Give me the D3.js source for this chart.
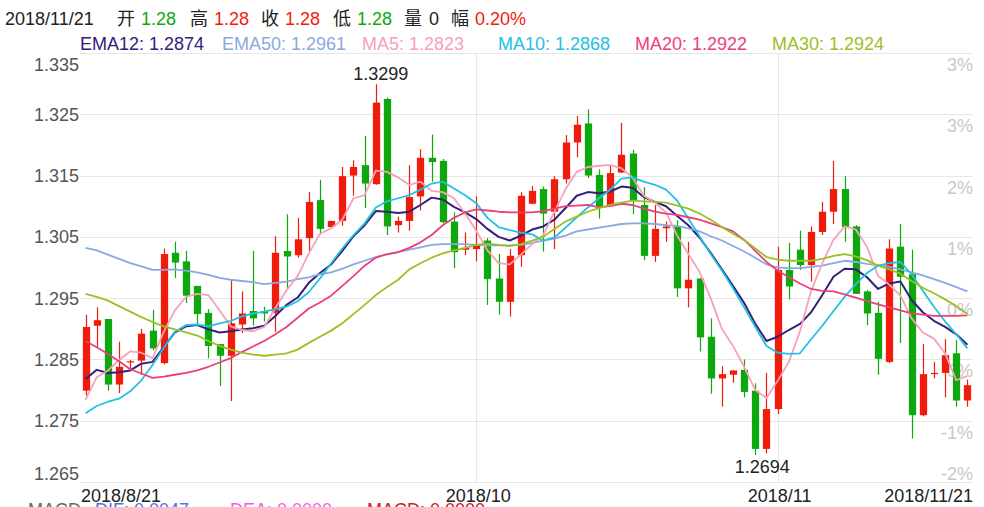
<!DOCTYPE html>
<html><head><meta charset="utf-8">
<script src="https://cdn.jsdelivr.net/npm/d3@7"></script>
<style>
html,body{margin:0;padding:0;background:#fff;overflow:hidden;}
svg{display:block;font-family:"Liberation Sans",Arial,"Noto Sans CJK SC",sans-serif;}
</style></head><body>
<svg id="c" width="984" height="507"></svg>
<script>
const dates = [
"2018/8/21","2018/8/22","2018/8/23","2018/8/24","2018/8/26","2018/8/27","2018/8/28","2018/8/29","2018/8/30","2018/8/31",
"2018/9/2","2018/9/3","2018/9/4","2018/9/5","2018/9/6","2018/9/7","2018/9/9","2018/9/10","2018/9/11","2018/9/12",
"2018/9/13","2018/9/14","2018/9/16","2018/9/17","2018/9/18","2018/9/19","2018/9/20","2018/9/21","2018/9/23","2018/9/24",
"2018/9/25","2018/9/26","2018/9/27","2018/9/28","2018/9/30","2018/10/1","2018/10/2","2018/10/3","2018/10/4","2018/10/5",
"2018/10/7","2018/10/8","2018/10/9","2018/10/10","2018/10/11","2018/10/12","2018/10/14","2018/10/15","2018/10/16","2018/10/17",
"2018/10/18","2018/10/19","2018/10/21","2018/10/22","2018/10/23","2018/10/24","2018/10/25","2018/10/26","2018/10/28","2018/10/29",
"2018/10/30","2018/10/31","2018/11/1","2018/11/2","2018/11/4","2018/11/5","2018/11/6","2018/11/7","2018/11/8","2018/11/9",
"2018/11/11","2018/11/12","2018/11/13","2018/11/14","2018/11/15","2018/11/16","2018/11/18","2018/11/19","2018/11/20","2018/11/21"];

const open = [1.2799,1.2905,1.2916,1.2809,1.2845,1.2848,1.2897,1.2844,1.3024,1.3010,
1.2970,1.2926,1.2875,1.2856,1.2907,1.2929,1.2929,1.2926,1.3027,1.3020,
1.3048,1.3110,1.3066,1.3076,1.3150,1.3167,1.3136,1.3275,1.3069,1.3076,
1.3116,1.3179,1.3174,1.3075,1.3029,1.3030,1.3044,1.2982,1.2944,1.3020,
1.3104,1.3128,1.3091,1.3144,1.3204,1.3235,1.3151,1.3102,1.3155,1.3186,
1.3102,1.3019,1.3064,1.3067,1.2966,1.2982,1.2887,1.2819,1.2825,1.2833,
1.2799,1.2704,1.2769,1.2996,1.3029,1.3004,1.3058,1.3091,1.3128,1.3067,
1.2961,1.2926,1.2846,1.3034,1.2989,1.2759,1.2826,1.2828,1.2860,1.2783];
const high = [1.2923,1.2935,1.2916,1.2879,1.2849,1.2900,1.2931,1.3031,1.3042,1.3027,
1.2970,1.2932,1.2875,1.2981,1.2961,1.3027,1.2936,1.3051,1.3087,1.3081,
1.3123,1.3143,1.3076,1.3164,1.3175,1.3215,1.3299,1.3277,1.3083,1.3167,
1.3193,1.3217,1.3177,1.3090,1.3057,1.3116,1.3048,1.3022,1.3030,1.3123,
1.3133,1.3132,1.3149,1.3216,1.3247,1.3258,1.3160,1.3167,1.3236,1.3192,
1.3131,1.3102,1.3075,1.3077,1.3042,1.2983,1.2917,1.2839,1.2832,1.2850,
1.2811,1.2828,1.3034,1.3040,1.3060,1.3067,1.3107,1.3174,1.3149,1.3069,
1.2963,1.2944,1.3046,1.3071,1.3029,1.2875,1.2846,1.2883,1.2882,1.2817];
const low = [1.2791,1.2870,1.2799,1.2795,1.2833,1.2825,1.2865,1.2842,1.2983,1.2942,
1.2906,1.2852,1.2807,1.2782,1.2893,1.2905,1.2912,1.2895,1.2963,1.3016,
1.3026,1.3054,1.3063,1.3068,1.3117,1.3097,1.3135,1.3053,1.3057,1.3060,
1.3093,1.3140,1.3072,1.2999,1.3020,1.3010,1.2939,1.2923,1.2920,1.3001,
1.3103,1.3026,1.3030,1.3137,1.3180,1.3146,1.3080,1.3099,1.3154,1.3087,
1.3012,1.3009,1.3042,1.2952,1.2935,1.2863,1.2794,1.2773,1.2812,1.2788,
1.2694,1.2697,1.2761,1.2948,1.2996,1.2977,1.3053,1.3071,1.3042,1.2957,
1.2906,1.2825,1.2844,1.2877,1.2721,1.2757,1.2819,1.2788,1.2773,1.2773];
const close = [1.2903,1.2914,1.2809,1.2838,1.2847,1.2892,1.2868,1.3022,1.3008,1.2954,
1.2924,1.2872,1.2856,1.2909,1.2925,1.2917,1.2925,1.3024,1.3018,1.3046,
1.3107,1.3063,1.3076,1.3149,1.3164,1.3137,1.3269,1.3067,1.3076,1.3115,
1.3179,1.3172,1.3074,1.3025,1.3032,1.3037,1.2981,1.2944,1.3019,1.3117,
1.3125,1.3088,1.3144,1.3204,1.3233,1.3150,1.3098,1.3154,1.3184,1.3110,
1.3019,1.3063,1.3067,1.2966,1.2980,1.2886,1.2819,1.2826,1.2832,1.2797,
1.2704,1.2769,1.2996,1.2969,1.3004,1.3058,1.3091,1.3128,1.3066,1.2957,
1.2925,1.2851,1.3031,1.2985,1.2759,1.2826,1.2828,1.2857,1.2783,1.2808];

const ema12 = [1.2818,1.2833,1.2828,1.2829,1.2832,1.2843,1.2846,1.2870,1.2894,1.2904,
1.2906,1.2899,1.2894,1.2896,1.2899,1.2901,1.2905,1.2921,1.2939,1.2951,
1.2975,1.2991,1.3005,1.3027,1.3051,1.3069,1.3092,1.3091,1.3089,1.3091,
1.3102,1.3114,1.3111,1.3099,1.3090,1.3079,1.3063,1.3050,1.3044,1.3052,
1.3062,1.3067,1.3078,1.3097,1.3117,1.3123,1.3121,1.3124,1.3132,1.3130,
1.3115,1.3107,1.3100,1.3084,1.3069,1.3049,1.3024,1.2997,1.2970,1.2942,
1.2908,1.2880,1.2887,1.2898,1.2908,1.2927,1.2955,1.2985,1.2998,1.2997,
1.2984,1.2965,1.2974,1.2977,1.2947,1.2927,1.2913,1.2903,1.2891,1.2874];
const ema50 = [1.3032,1.3028,1.3021,1.3014,1.3007,1.3002,1.2996,1.2996,1.2997,1.2995,
1.2992,1.2988,1.2983,1.2980,1.2978,1.2976,1.2973,1.2975,1.2977,1.2981,
1.2984,1.2989,1.2992,1.2998,1.3005,1.3011,1.3017,1.3021,1.3025,1.3029,
1.3033,1.3037,1.3038,1.3038,1.3038,1.3037,1.3036,1.3036,1.3036,1.3037,
1.3040,1.3044,1.3047,1.3052,1.3059,1.3062,1.3065,1.3068,1.3071,1.3072,
1.3072,1.3071,1.3069,1.3068,1.3064,1.3059,1.3051,1.3044,1.3035,1.3026,
1.3016,1.3005,1.3000,1.2999,1.2999,1.3001,1.3003,1.3007,1.3011,1.3009,
1.3006,1.3004,1.3001,1.2997,1.2992,1.2987,1.2981,1.2975,1.2968,1.2961];
const ma5 = [1.2784,1.2821,1.2832,1.2849,1.2863,1.2861,1.2852,1.2895,1.2930,1.2952,
1.2957,1.2955,1.2930,1.2904,1.2898,1.2896,1.2903,1.2934,1.2963,1.2986,
1.3023,1.3055,1.3064,1.3078,1.3113,1.3118,1.3158,1.3156,1.3147,1.3135,
1.3140,1.3125,1.3123,1.3113,1.3088,1.3060,1.3028,1.3007,1.3005,1.3021,
1.3038,1.3053,1.3091,1.3128,1.3156,1.3164,1.3166,1.3167,1.3162,1.3147,
1.3117,1.3106,1.3090,1.3052,1.3022,1.2993,1.2950,1.2900,1.2872,1.2838,
1.2800,1.2787,1.2815,1.2846,1.2896,1.2962,1.3007,1.3045,1.3067,1.3062,
1.3034,1.2986,1.2972,1.2954,1.2917,1.2894,1.2884,1.2860,1.2816,1.2823];
const ma10 = [1.2762,1.2774,1.2781,1.2786,1.2798,1.2816,1.2841,1.2869,1.2895,1.2906,
1.2907,1.2904,1.2909,1.2913,1.2920,1.2925,1.2928,1.2932,1.2936,1.2945,
1.2960,1.2982,1.3007,1.3031,1.3053,1.3072,1.3098,1.3108,1.3113,1.3118,
1.3127,1.3137,1.3140,1.3129,1.3118,1.3105,1.3081,1.3066,1.3061,1.3057,
1.3054,1.3044,1.3049,1.3065,1.3082,1.3098,1.3113,1.3127,1.3145,1.3147,
1.3140,1.3135,1.3127,1.3109,1.3080,1.3051,1.3022,1.2995,1.2966,1.2935,
1.2903,1.2872,1.2861,1.2859,1.2860,1.2883,1.2905,1.2929,1.2952,1.2973,
1.2991,1.3003,1.3007,1.3009,1.2989,1.2962,1.2936,1.2912,1.2891,1.2868];
const ma20 = [1.2880,1.2870,1.2859,1.2847,1.2834,1.2827,1.2820,1.2822,1.2825,1.2828,
1.2832,1.2838,1.2845,1.2852,1.2862,1.2871,1.2880,1.2891,1.2903,1.2918,
1.2933,1.2943,1.2954,1.2970,1.2986,1.3003,1.3016,1.3022,1.3025,1.3032,
1.3041,1.3053,1.3069,1.3081,1.3090,1.3095,1.3093,1.3091,1.3090,1.3090,
1.3090,1.3092,1.3096,1.3100,1.3101,1.3102,1.3098,1.3100,1.3104,1.3102,
1.3096,1.3091,1.3088,1.3086,1.3082,1.3078,1.3072,1.3066,1.3059,1.3045,
1.3027,1.3009,1.2995,1.2984,1.2974,1.2965,1.2962,1.2961,1.2956,1.2951,
1.2945,1.2940,1.2935,1.2930,1.2925,1.2923,1.2921,1.2921,1.2921,1.2922];
const ma30 = [1.2957,1.2952,1.2946,1.2937,1.2928,1.2919,1.2911,1.2904,1.2899,1.2894,
1.2889,1.2880,1.2872,1.2866,1.2861,1.2858,1.2856,1.2858,1.2860,1.2866,
1.2877,1.2887,1.2897,1.2909,1.2924,1.2939,1.2955,1.2968,1.2980,1.2997,
1.3007,1.3016,1.3023,1.3028,1.3032,1.3037,1.3039,1.3037,1.3035,1.3038,
1.3044,1.3050,1.3063,1.3075,1.3083,1.3091,1.3097,1.3102,1.3106,1.3109,
1.3108,1.3107,1.3106,1.3101,1.3096,1.3088,1.3078,1.3066,1.3055,1.3045,
1.3031,1.3017,1.3013,1.3011,1.3011,1.3011,1.3014,1.3019,1.3022,1.3018,
1.3012,1.3003,1.2997,1.2990,1.2978,1.2967,1.2958,1.2948,1.2937,1.2924];

const yTicks = [1.335,1.325,1.315,1.305,1.295,1.285,1.275,1.265];
const pctLabels = ["3%","3%","2%","1%","0%","-0%","-1%","-2%"];
const xTickDates = ["2018/8/21","2018/10/1","2018/11/1","2018/11/21"];
const xTickLabels = ["2018/8/21","2018/10","2018/11","2018/11/21"];

const RED = "#f11b0c", GREEN = "#0da80d";
const series = [
  {name:"EMA12", values:ema12, color:"#33207a", lx:80},
  {name:"EMA50", values:ema50, color:"#8aa9e1", lx:222},
  {name:"MA5",   values:ma5,   color:"#f7a1b9", lx:362},
  {name:"MA10",  values:ma10,  color:"#22c1e3", lx:498},
  {name:"MA20",  values:ma20,  color:"#ec407a", lx:635},
  {name:"MA30",  values:ma30,  color:"#9bc026", lx:772}
];

const svg = d3.select("#c");
const L = 80, R = 973, T = 53, B = 482;
const x = d3.scaleBand().domain(dates).range([L, R]).paddingInner(0.35).paddingOuter(0.175);
const y = d3.scaleLinear().domain([1.265, 1.335]).range([B, T]);
const bw = x.bandwidth();
const cx = d => x(d) + bw / 2;

// grid
const grid = svg.append("g");
grid.selectAll("line.h").data(yTicks).join("line")
  .attr("x1", L).attr("x2", R)
  .attr("y1", d => Math.round(y(d)) + 0.5).attr("y2", d => Math.round(y(d)) + 0.5)
  .attr("stroke", "#e6e6e6").attr("stroke-width", 1);
grid.selectAll("line.v").data(xTickDates.slice(1, 3)).join("line")
  .attr("x1", d => Math.round(cx(d)) + 0.5).attr("x2", d => Math.round(cx(d)) + 0.5)
  .attr("y1", T).attr("y2", B)
  .attr("stroke", "#e6e6e6").attr("stroke-width", 1);

// left axis labels
const fmt = d3.format(".3f");
svg.append("g").selectAll("text").data(yTicks).join("text")
  .attr("x", L - 1)
  .attr("y", (d, i) => i === 0 ? y(d) + 18 : (i === yTicks.length - 1 ? y(d) - 2.5 : y(d) + 6.5))
  .attr("text-anchor", "end").attr("font-size", 18).attr("fill", "#555")
  .text(d => fmt(d));

// right percent labels
svg.append("g").selectAll("text").data(yTicks).join("text")
  .attr("x", R)
  .attr("y", (d, i) => i === yTicks.length - 1 ? y(d) - 2.5 : y(d) + 18)
  .attr("text-anchor", "end").attr("font-size", 18).attr("fill", "#c8c8c8")
  .text((d, i) => pctLabels[i]);

// x labels
const anchors = ["start", "middle", "middle", "end"];
svg.append("g").selectAll("text").data(xTickDates).join("text")
  .attr("x", (d, i) => i === 0 ? L + 1 : (i === 3 ? R : cx(d) + 2))
  .attr("y", 501.5)
  .attr("text-anchor", (d, i) => anchors[i]).attr("font-size", 18).attr("fill", "#222")
  .text((d, i) => xTickLabels[i]);

// candles
const candles = svg.append("g");
dates.forEach((d, i) => {
  const up = close[i] >= open[i];
  const col = up ? RED : GREEN;
  const xc = Math.round(cx(d)) + 0.5;
  candles.append("line")
    .attr("x1", xc).attr("x2", xc)
    .attr("y1", y(high[i])).attr("y2", y(low[i]))
    .attr("stroke", col).attr("stroke-width", 1.2);
  const top = y(Math.max(open[i], close[i]));
  const h = Math.max(1.2, Math.abs(y(open[i]) - y(close[i])));
  candles.append("rect")
    .attr("x", xc - bw / 2).attr("width", bw)
    .attr("y", top).attr("height", h)
    .attr("fill", col);
});

// lines
const line = d3.line().x((v, i) => cx(dates[i])).y(v => y(v));
svg.append("g").selectAll("path").data(series).join("path")
  .attr("d", s => line(s.values))
  .attr("fill", "none").attr("stroke", s => s.color)
  .attr("stroke-width", s => s.name === "EMA12" ? 2 : 1.8)
  .attr("stroke-linejoin", "round");

// high / low annotations
const hiIdx = d3.maxIndex(high), loIdx = d3.minIndex(low);
svg.append("text").attr("x", cx(dates[hiIdx]) + 5).attr("y", y(high[hiIdx]) - 4)
  .attr("text-anchor", "middle").attr("font-size", 18).attr("fill", "#222")
  .text(high[hiIdx].toFixed(4));
svg.append("text").attr("x", cx(dates[loIdx]) + 7).attr("y", y(low[loIdx]) + 17.5)
  .attr("text-anchor", "middle").attr("font-size", 18).attr("fill", "#222")
  .text(low[loIdx].toFixed(4));

// header
const n = dates.length - 1;
const chg = (close[n] - open[n]) / open[n] * 100;
const header = [
  {t: dates[n], c: "#222", x: 5},
  {t: "开", c: "#222", x: 117}, {t: open[n].toFixed(2), c: GREEN, x: 141},
  {t: "高", c: "#222", x: 190}, {t: high[n].toFixed(2), c: RED, x: 214},
  {t: "收", c: "#222", x: 261}, {t: close[n].toFixed(2), c: RED, x: 285},
  {t: "低", c: "#222", x: 333}, {t: low[n].toFixed(2), c: GREEN, x: 357},
  {t: "量", c: "#222", x: 404}, {t: "0", c: "#222", x: 429},
  {t: "幅", c: "#222", x: 451}, {t: chg.toFixed(2) + "%", c: RED, x: 475}
];
svg.append("g").selectAll("text").data(header).join("text")
  .attr("x", d => d.x).attr("y", 25).attr("font-size", 18).attr("fill", d => d.c)
  .text(d => d.t);

// legend
svg.append("g").selectAll("text").data(series).join("text")
  .attr("x", s => s.lx).attr("y", 50).attr("font-size", 18).attr("fill", s => s.color)
  .text(s => s.name + ": " + s.values[s.values.length - 1].toFixed(4));

// partially visible MACD row (cut off by the bottom edge, as in the reference)
const macdRow = [
  {t: "MACD", c: "#666", x: 28},
  {t: "DIF: 0.0047", c: "#4f6ff0", x: 95},
  {t: "DEA: 0.0000", c: "#ee5fe8", x: 230},
  {t: "MACD: 0.0000", c: "#c8201e", x: 367}
];
svg.append("g").selectAll("text").data(macdRow).join("text")
  .attr("x", d => d.x).attr("y", 516).attr("font-size", 18).attr("fill", d => d.c)
  .text(d => d.t);
</script>
</body></html>
